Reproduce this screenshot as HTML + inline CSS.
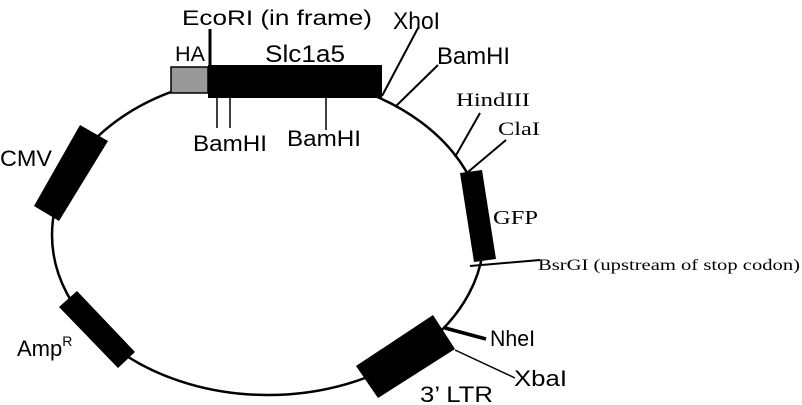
<!DOCTYPE html>
<html><head><style>
html,body{margin:0;padding:0;background:#fff;}
svg{display:block;}
.s{font-family:"Liberation Sans",sans-serif;fill:#000;}
.r{font-family:"Liberation Serif",serif;fill:#000;}
</style></head><body>
<svg width="802" height="405" viewBox="0 0 802 405" xmlns="http://www.w3.org/2000/svg">
<ellipse cx="268" cy="235" rx="216" ry="160" fill="none" stroke="#000" stroke-width="2.5"/>
<rect x="171" y="67" width="37" height="26" fill="#999" stroke="#000" stroke-width="1.5"/>
<rect x="208" y="65" width="174" height="33" fill="#000"/>
<line x1="210" y1="29" x2="210" y2="66" stroke="#000" stroke-width="3"/>
<line x1="217" y1="98" x2="217" y2="128" stroke="#000" stroke-width="1.5"/>
<line x1="230" y1="98" x2="230" y2="128" stroke="#000" stroke-width="1.5"/>
<line x1="326" y1="98" x2="326" y2="130" stroke="#000" stroke-width="1.5"/>
<line x1="382" y1="96" x2="418" y2="28" stroke="#000" stroke-width="2"/>
<line x1="395" y1="107" x2="438" y2="65" stroke="#000" stroke-width="2"/>
<line x1="455" y1="157" x2="480" y2="113" stroke="#000" stroke-width="2"/>
<line x1="468" y1="172" x2="506" y2="140" stroke="#000" stroke-width="2"/>
<polygon points="460,173 482,170 496,259 474,262" fill="#000"/>
<line x1="470" y1="266" x2="540" y2="260" stroke="#000" stroke-width="2"/>
<polygon points="356,366 433,315 455,349 378,398" fill="#000"/>
<line x1="445" y1="328" x2="486" y2="339" stroke="#000" stroke-width="3.5"/>
<line x1="455" y1="350" x2="515" y2="378" stroke="#000" stroke-width="1.5"/>
<polygon points="80,125 108,141 59,221 34,206" fill="#000"/>
<polygon points="77,291 59,307 118,368 135,352" fill="#000"/>
<text class="s" style="font-size:21px" x="182" y="25" textLength="190" lengthAdjust="spacingAndGlyphs">EcoRI (in frame)</text>
<text class="s" style="font-size:24px" x="393" y="29" textLength="47" lengthAdjust="spacingAndGlyphs">XhoI</text>
<text class="s" style="font-size:21px" x="175" y="61" textLength="30" lengthAdjust="spacingAndGlyphs">HA</text>
<text class="s" style="font-size:24px" x="265" y="62" textLength="80" lengthAdjust="spacingAndGlyphs">Slc1a5</text>
<text class="s" style="font-size:24px" x="437" y="64" textLength="73" lengthAdjust="spacingAndGlyphs">BamHI</text>
<text class="s" style="font-size:22px" x="193" y="151" textLength="74" lengthAdjust="spacingAndGlyphs">BamHI</text>
<text class="s" style="font-size:22px" x="287" y="146" textLength="74" lengthAdjust="spacingAndGlyphs">BamHI</text>
<text class="r" style="font-size:19px" x="456" y="106" textLength="74" lengthAdjust="spacingAndGlyphs">HindIII</text>
<text class="r" style="font-size:19px" x="498" y="135" textLength="42" lengthAdjust="spacingAndGlyphs">ClaI</text>
<text class="r" style="font-size:20px" x="493" y="224" textLength="45" lengthAdjust="spacingAndGlyphs">GFP</text>
<text class="r" style="font-size:16px" x="538" y="270" textLength="262" lengthAdjust="spacingAndGlyphs">BsrGI (upstream of stop codon)</text>
<text class="s" style="font-size:22px" x="490" y="346" textLength="45" lengthAdjust="spacingAndGlyphs">NheI</text>
<text class="s" style="font-size:22px" x="514" y="386" textLength="53" lengthAdjust="spacingAndGlyphs">XbaI</text>
<text class="s" style="font-size:22px" x="420" y="402" textLength="73" lengthAdjust="spacingAndGlyphs">3’ LTR</text>
<text class="s" style="font-size:22px" x="0" y="166" textLength="52" lengthAdjust="spacingAndGlyphs">CMV</text>
<text class="s" style="font-size:22px" x="17" y="356">Amp<tspan style="font-size:14px" dy="-10">R</tspan></text>
</svg>
</body></html>
